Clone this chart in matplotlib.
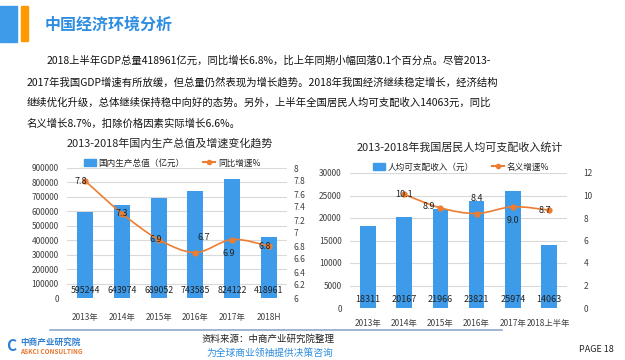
import numpy as np
import matplotlib
matplotlib.use("Agg")
import matplotlib.pyplot as plt
from matplotlib.path import Path
from matplotlib.patches import PathPatch, Rectangle, Patch
from matplotlib.lines import Line2D
from matplotlib.ticker import FormatStrFormatter
import matplotlib.transforms as mtransforms

plt.rcParams['font.family'] = ['Noto Sans CJK SC', 'DejaVu Sans']

# === DATA ===
gdp_years = ["2013年", "2014年", "2015年", "2016年", "2017年", "2018H"]
gdp_values = [595244, 643974, 689052, 743585, 824122, 418961]
gdp_growth = [7.8, 7.3, 6.9, 6.7, 6.9, 6.8]

inc_years = ["2013年", "2014年", "2015年", "2016年", "2017年", "2018上半年"]
inc_values = [18311, 20167, 21966, 23821, 25974, 14063]
inc_growth_years = ["2014年", "2015年", "2016年", "2017年", "2018上半年"]
inc_growth = [10.1, 8.9, 8.4, 9.0, 8.7]

title = "中国经济环境分析"
paragraph = [
    "2018上半年GDP总量418961亿元，同比增长6.8%，比上年同期小幅回落0.1个百分点。尽管2013-",
    "2017年我国GDP增速有所放缓，但总量仍然表现为增长趋势。2018年我国经济继续稳定增长，经济结构",
    "继续优化升级，总体继续保持稳中向好的态势。另外，上半年全国居民人均可支配收入14063元，同比",
    "名义增长8.7%，扣除价格因素实际增长6.6%。",
]

# === STYLE ===
W, H = 625, 360
BAR = "#3D9BE9"
LINE = "#ED7D31"
GRID = "#D9D9D9"
TXT = "#404040"


def px(x, y):
    return x / W, 1 - y / H


def smooth_path(xs, ys):
    # Catmull-Rom style bezier through the data points
    pts = np.column_stack([xs, ys]).astype(float)
    verts = [pts[0]]
    codes = [Path.MOVETO]
    n = len(pts)
    for i in range(n - 1):
        p0 = pts[max(i - 1, 0)]
        p1 = pts[i]
        p2 = pts[i + 1]
        p3 = pts[min(i + 2, n - 1)]
        verts += [p1 + (p2 - p0) / 6, p2 - (p3 - p1) / 6, p2]
        codes += [Path.CURVE4] * 3
    return Path(verts, codes)


fig = plt.figure(figsize=(6.25, 3.6), dpi=100)

# === HEADER ===
fig.patches.append(Rectangle(px(0, 42), 17 / W, 36 / H, transform=fig.transFigure,
                             color=BAR, zorder=1))
fig.patches.append(Rectangle(px(21, 41), 7 / W, 35 / H, transform=fig.transFigure,
                             color="#FF9900", zorder=1))
fig.text(*px(45, 25), title, fontsize=11.5, fontweight="bold", color="#2E8DE0",
         va="center", ha="left")

line_y = [61, 82, 103, 124]
for i, (txt, yy) in enumerate(zip(paragraph, line_y)):
    fig.text(*px(47 if i == 0 else 27, yy), txt, fontsize=7.45, color="#111111",
             va="center", ha="left")


def style_axes(ax, ax2):
    for a in (ax, ax2):
        for s in a.spines.values():
            s.set_visible(False)
        a.tick_params(length=0, labelsize=6, labelcolor=TXT)
    ax.yaxis.grid(True, color=GRID, linewidth=0.8)
    ax.set_axisbelow(True)


# === LEFT CHART: GDP ===
ax = fig.add_axes([67 / W, 1 - 298 / H, 220 / W, 130 / H])
ax2 = ax.twinx()
x = np.arange(len(gdp_years))
ax.bar(x, gdp_values, width=0.43, color=BAR, zorder=2)
ax.set_ylim(0, 900000)
ax.set_yticks(np.arange(0, 900001, 100000))
ax.set_xlim(-0.5, len(gdp_years) - 0.5)
ax.set_xticks(x)
ax.set_xticklabels(gdp_years, fontsize=6.5)
ax.tick_params(axis="x", pad=11)
ax2.set_ylim(6, 8)
ax2.set_yticks(np.arange(6, 8.01, 0.2))
ax2.yaxis.set_major_formatter(FormatStrFormatter("%g"))
style_axes(ax, ax2)
ax.tick_params(axis="y", pad=6)
ax2.tick_params(axis="y", pad=5)

ax2.add_patch(PathPatch(smooth_path(x, gdp_growth), facecolor="none",
                        edgecolor=LINE, linewidth=1.2, zorder=3))
ax2.plot(x, gdp_growth, "o", color=LINE, markersize=3.5, zorder=4)

trans = mtransforms.blended_transform_factory(ax.transData, ax.transAxes)
for xi, v in zip(x, gdp_values):
    ax.text(xi, 0.06, str(v), transform=trans, ha="center", va="center",
            fontsize=6.3, color="#222222", zorder=5)
gdp_lbl_off = [(-3, 0), (0, 0), (-2, 0), (6, 11), (-2, -10), (-3, 0)]
for xi, v, off in zip(x, gdp_growth, gdp_lbl_off):
    ax2.annotate(f"{v:.1f}", (xi, v), xytext=off, textcoords="offset points",
                 ha="center", va="center", fontsize=6.5, color="#222222", zorder=5)

fig.text(*px(170, 143), "2013-2018年国内生产总值及增速变化趋势", fontsize=7.9,
         ha="center", va="center", color="#222222")
fig.legend(handles=[Patch(color=BAR, label="国内生产总值（亿元）"),
                    Line2D([], [], color=LINE, marker="o", markersize=3, label="同比增速%")],
           loc="center", bbox_to_anchor=px(172, 163), ncol=2, frameon=False,
           fontsize=6.2, handlelength=1.4, handleheight=0.9, columnspacing=2.2,
           handletextpad=0.3, labelcolor="#222222")

# === RIGHT CHART: INCOME ===
bx = fig.add_axes([350 / W, 1 - 308 / H, 217 / W, 135 / H])
bx2 = bx.twinx()
x2 = np.arange(len(inc_years))
bx.bar(x2, inc_values, width=0.43, color=BAR, zorder=2)
bx.set_ylim(0, 30000)
bx.set_yticks(np.arange(0, 30001, 5000))
bx.set_xlim(-0.5, len(inc_years) - 0.5)
bx.set_xticks(x2)
bx.set_xticklabels(inc_years, fontsize=5.2)
bx.tick_params(axis="x", pad=8)
bx2.set_ylim(0, 12)
bx2.set_yticks(np.arange(0, 13, 2))
style_axes(bx, bx2)
bx.tick_params(axis="y", pad=6)
bx2.tick_params(axis="y", pad=12)

gx = np.array([inc_years.index(y) for y in inc_growth_years])
bx2.add_patch(PathPatch(smooth_path(gx, inc_growth), facecolor="none",
                        edgecolor=LINE, linewidth=1.2, zorder=3))
bx2.plot(gx, inc_growth, "o", color=LINE, markersize=3.5, zorder=4)

trans2 = mtransforms.blended_transform_factory(bx.transData, bx.transAxes)
for xi, v in zip(x2, inc_values):
    bx.text(xi, 0.06, str(v), transform=trans2, ha="center", va="center",
            fontsize=6.5, color="#222222", zorder=5)
inc_lbl_off = [(0, 0), (-8, 1), (0, 11), (0, -10), (-3, 0)]
for xi, v, off in zip(gx, inc_growth, inc_lbl_off):
    bx2.annotate(f"{v:.1f}", (xi, v), xytext=off, textcoords="offset points",
                 ha="center", va="center", fontsize=6.5, color="#222222", zorder=5)

fig.text(*px(460, 148), "2013-2018年我国居民人均可支配收入统计", fontsize=7.9,
         ha="center", va="center", color="#222222")
fig.legend(handles=[Patch(color=BAR, label="人均可支配收入（元）"),
                    Line2D([], [], color=LINE, marker="o", markersize=3, label="名义增速%")],
           loc="center", bbox_to_anchor=px(461, 167), ncol=2, frameon=False,
           fontsize=6.2, handlelength=1.4, handleheight=0.9, columnspacing=2.2,
           handletextpad=0.3, labelcolor="#222222")

# === FOOTER ===
fig.add_artist(Line2D([50 / W, 502 / W], [1 - 330 / H] * 2, transform=fig.transFigure,
                      color="#8EA9C8", linewidth=1.2))
fig.text(*px(268, 339), "资料来源：中商产业研究院整理", fontsize=6.8, ha="center",
         va="center", color="#222222")
fig.text(*px(270, 353), "为全球商业领袖提供决策咨询", fontsize=7, ha="center",
         va="center", color="#2E8DE0", style="italic")
fig.text(*px(20, 342), "中商产业研究院", fontsize=6.2, ha="left", va="center",
         color="#2E7FD0", fontweight="bold")
fig.text(*px(20, 352), "ASKCI CONSULTING", fontsize=4.6, ha="left", va="center",
         color="#E8762D", fontweight="bold")
fig.text(*px(11, 346), "C", fontsize=11, ha="center", va="center",
         color="#2E7FD0", fontweight="bold")
fig.text(*px(596, 349), "PAGE 18", fontsize=6.5, ha="center", va="center",
         color="#222222")

fig.savefig("out.png", dpi=100)
